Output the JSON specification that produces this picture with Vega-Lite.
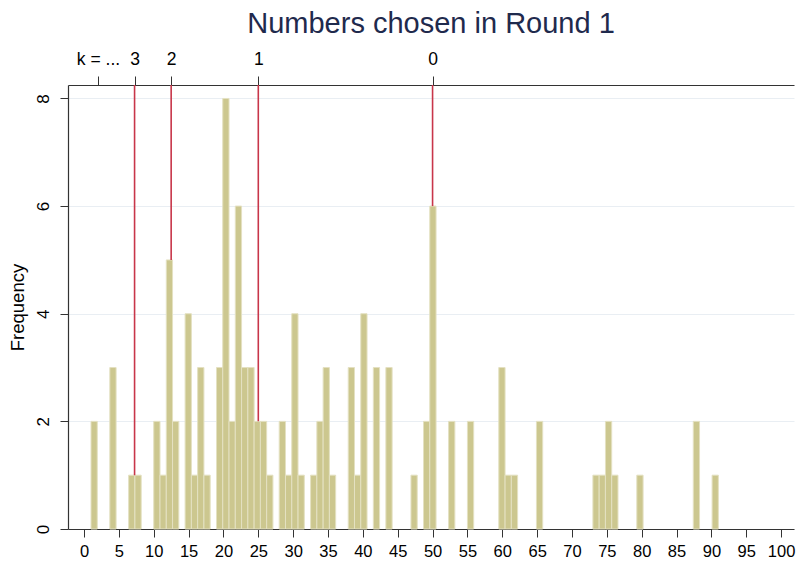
{
  "$schema": "https://vega.github.io/schema/vega-lite/v6.json",
  "autosize": "none",
  "width": 726,
  "height": 444,
  "padding": {"left": 68, "top": 85, "right": 7, "bottom": 35},
  "background": "white",
  "config": {
    "font": "Liberation Sans",
    "view": {"stroke": null},
    "axis": {"domainColor": "#333333", "tickColor": "#333333", "labelColor": "#000000", "titleColor": "#000000", "labelFont": "Liberation Sans", "titleFont": "Liberation Sans"}
  },
  "title": {"text": "Numbers chosen in Round 1", "fontSize": 29, "fontWeight": "normal", "color": "#1f2a4d", "font": "Liberation Sans", "offset": 11},
  "resolve": {"axis": {"x": "independent", "y": "independent"}},
  "layer": [
    {
      "data": {"values": [
        {"lo": 1.0, "hi": 1.9, "count": 2},
        {"lo": 3.7, "hi": 4.6, "count": 3},
        {"lo": 6.4, "hi": 7.3, "count": 1},
        {"lo": 7.3, "hi": 8.2, "count": 1},
        {"lo": 10.0, "hi": 10.9, "count": 2},
        {"lo": 10.9, "hi": 11.8, "count": 1},
        {"lo": 11.8, "hi": 12.7, "count": 5},
        {"lo": 12.7, "hi": 13.6, "count": 2},
        {"lo": 14.5, "hi": 15.4, "count": 4},
        {"lo": 15.4, "hi": 16.3, "count": 1},
        {"lo": 16.3, "hi": 17.2, "count": 3},
        {"lo": 17.2, "hi": 18.1, "count": 1},
        {"lo": 19.0, "hi": 19.9, "count": 3},
        {"lo": 19.9, "hi": 20.8, "count": 8},
        {"lo": 20.8, "hi": 21.7, "count": 2},
        {"lo": 21.7, "hi": 22.6, "count": 6},
        {"lo": 22.6, "hi": 23.5, "count": 3},
        {"lo": 23.5, "hi": 24.4, "count": 3},
        {"lo": 24.4, "hi": 25.3, "count": 2},
        {"lo": 25.3, "hi": 26.2, "count": 2},
        {"lo": 26.2, "hi": 27.1, "count": 1},
        {"lo": 28.0, "hi": 28.9, "count": 2},
        {"lo": 28.9, "hi": 29.8, "count": 1},
        {"lo": 29.8, "hi": 30.7, "count": 4},
        {"lo": 30.7, "hi": 31.6, "count": 1},
        {"lo": 32.5, "hi": 33.4, "count": 1},
        {"lo": 33.4, "hi": 34.3, "count": 2},
        {"lo": 34.3, "hi": 35.2, "count": 3},
        {"lo": 35.2, "hi": 36.1, "count": 1},
        {"lo": 37.9, "hi": 38.8, "count": 3},
        {"lo": 38.8, "hi": 39.7, "count": 1},
        {"lo": 39.7, "hi": 40.6, "count": 4},
        {"lo": 41.5, "hi": 42.4, "count": 3},
        {"lo": 43.3, "hi": 44.2, "count": 3},
        {"lo": 46.9, "hi": 47.8, "count": 1},
        {"lo": 48.7, "hi": 49.6, "count": 2},
        {"lo": 49.6, "hi": 50.5, "count": 6},
        {"lo": 52.3, "hi": 53.2, "count": 2},
        {"lo": 55.0, "hi": 55.9, "count": 2},
        {"lo": 59.5, "hi": 60.4, "count": 3},
        {"lo": 60.4, "hi": 61.3, "count": 1},
        {"lo": 61.3, "hi": 62.2, "count": 1},
        {"lo": 64.9, "hi": 65.8, "count": 2},
        {"lo": 73.0, "hi": 73.9, "count": 1},
        {"lo": 73.9, "hi": 74.8, "count": 1},
        {"lo": 74.8, "hi": 75.7, "count": 2},
        {"lo": 75.7, "hi": 76.6, "count": 1},
        {"lo": 79.3, "hi": 80.2, "count": 1},
        {"lo": 87.4, "hi": 88.3, "count": 2},
        {"lo": 90.1, "hi": 91.0, "count": 1}
      ]},
      "mark": {"type": "bar", "fill": "#ccc78f", "stroke": "#e4e1c2", "strokeWidth": 1},
      "encoding": {
        "x": {"field": "lo", "type": "quantitative",
          "scale": {"domain": [-2.3, 101.85], "nice": false, "zero": false},
          "axis": {"orient": "bottom", "title": null, "values": [0,5,10,15,20,25,30,35,40,45,50,55,60,65,70,75,80,85,90,95,100], "grid": false, "labelFontSize": 16.5, "tickSize": 8, "labelPadding": 6, "labelFlush": false, "labelOverlap": false, "domainWidth": 1.2}},
        "x2": {"field": "hi"},
        "y": {"field": "count", "type": "quantitative",
          "scale": {"domain": [0, 8.25], "nice": false},
          "axis": {"title": "Frequency", "values": [0,2,4,6,8], "labelAngle": -90, "labelAlign": "center", "labelBaseline": "bottom", "labelFontSize": 17, "tickSize": 8, "labelPadding": 8, "titleFontSize": 18.5, "titleFontWeight": "normal", "titlePadding": 7, "grid": true, "gridColor": "#e9eef3", "gridWidth": 1, "domainWidth": 1.2, "labelFlush": false}},
        "y2": {"datum": 0}
      }
    },
    {
      "data": {"values": [
        {"v": 7.25, "h": 1},
        {"v": 12.5, "h": 5},
        {"v": 25, "h": 2},
        {"v": 50, "h": 6}
      ]},
      "mark": {"type": "rule", "color": "#c8364a", "strokeWidth": 1.6},
      "encoding": {
        "x": {"field": "v", "type": "quantitative",
          "axis": {"orient": "top", "title": null, "values": [2, 7.25, 12.5, 25, 50], "labelExpr": "datum.value == 2 ? 'k = ...' : datum.value == 7.25 ? '3' : datum.value == 12.5 ? '2' : datum.value == 25 ? '1' : '0'", "grid": false, "labelFontSize": 17.5, "tickSize": 9, "labelPadding": 8, "labelFlush": false, "labelOverlap": false, "domainWidth": 1.2}},
        "y": {"field": "h", "type": "quantitative", "axis": null},
        "y2": {"datum": 8.25}
      }
    }
  ]
}
